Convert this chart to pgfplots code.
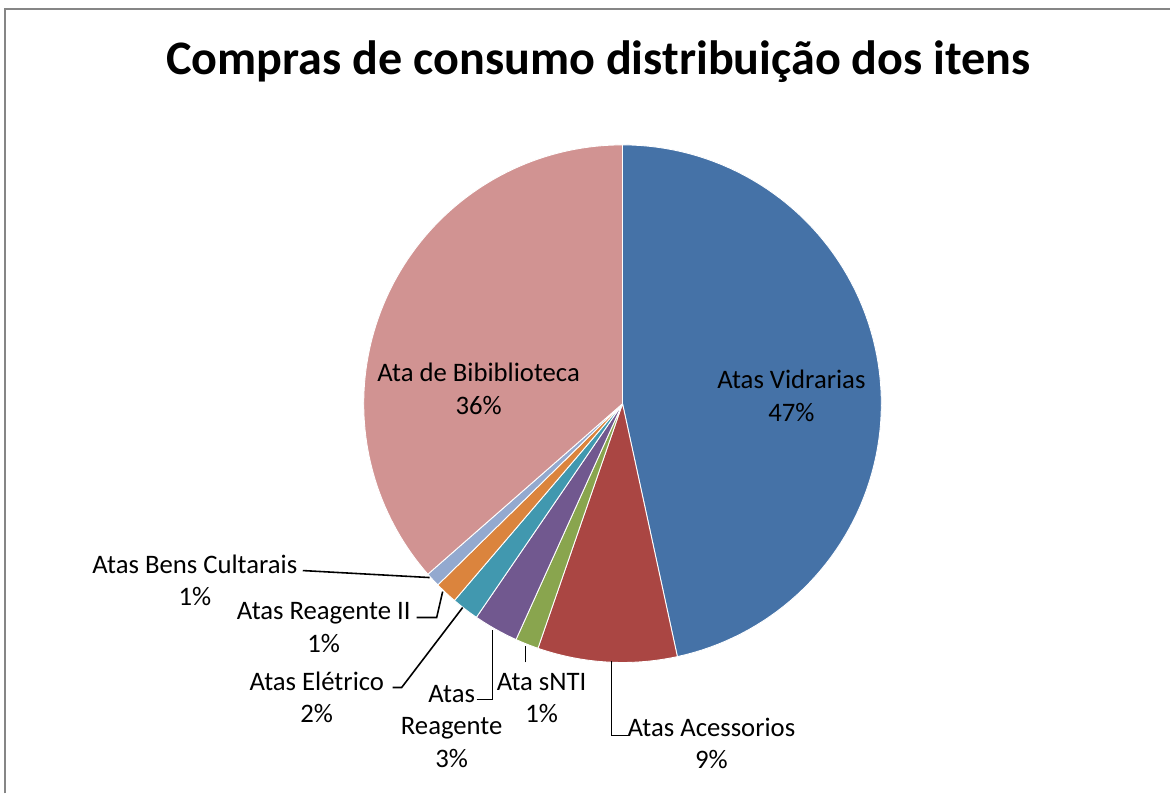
\documentclass[border=0pt]{standalone}
\usepackage{pgfplots}
\pgfplotsset{compat=1.18}
\usepackage{pgfplotstable}
\usepackage{fontspec}
\setmainfont{Carlito}
\definecolor{sc0}{HTML}{4572A7}
\definecolor{sc1}{HTML}{AA4643}
\definecolor{sc2}{HTML}{89A54E}
\definecolor{sc3}{HTML}{71588F}
\definecolor{sc4}{HTML}{4198AF}
\definecolor{sc5}{HTML}{DB843D}
\definecolor{sc6}{HTML}{93A9CF}
\definecolor{sc7}{HTML}{D19392}
\definecolor{framegray}{HTML}{868686}

\pgfplotstableread{
name value
Vidrarias 46.6
Acessorios 8.7
sNTI 1.45
Reagente 2.8
Eletrico 1.7
ReagenteII 1.4
BensCultarais 0.9
Biblioteca 36.45
}\piedata

\xdef\cum{0}
\pgfplotsforeachungrouped \i in {0,...,7}{%
  \pgfplotstablegetelem{\i}{value}\of\piedata
  \pgfmathsetmacro\sA{90-3.6*\cum}%
  \pgfmathsetmacro\cumnew{\cum+\pgfplotsretval}%
  \pgfmathsetmacro\eA{90-3.6*\cumnew}%
  \expandafter\xdef\csname ps\i\endcsname{\sA}%
  \expandafter\xdef\csname pe\i\endcsname{\eA}%
  \xdef\cum{\cumnew}%
}

\begin{document}
\begin{tikzpicture}
\begin{axis}[
  width=11.71cm, height=7.94cm, scale only axis,
  xmin=0, xmax=1171, ymin=0, ymax=794,
  hide axis, clip=false,
  font=\fontsize{7.6}{9.2}\selectfont,
]
\path (rel axis cs:0,0) rectangle (rel axis cs:1,1);
\pgfplotsinvokeforeach{0,...,7}{
  \edef\da{\csname pe#1\endcsname}
  \edef\db{\csname ps#1\endcsname}
  \addplot[fill=sc#1, draw=white, line width=0.25pt, domain=\da:\db, samples=90, variable=\t]
    ({623+259*cos(\t)},{390+259*sin(\t)}) -- (axis cs:623,390) -- cycle;
}
\draw[framegray, line width=0.5pt] (axis cs:5,0) -- (axis cs:5,785) -- (axis cs:1171,785);
\node[font=\fontsize{13.7}{16}\selectfont\bfseries] at (axis cs:599,732) {Compras de consumo distribuição dos itens};
\node[align=center] at (axis cs:792,398) {Atas Vidrarias\\47\%};
\node[align=center] at (axis cs:479,405) {Ata de Bibiblioteca\\36\%};
\node[align=center] at (axis cs:195,213) {Atas Bens Cultarais\\1\%};
\node[align=center] at (axis cs:324,166) {Atas Reagente II\\1\%};
\node[align=center] at (axis cs:317,96) {Atas Elétrico\\2\%};
\node[align=center] at (axis cs:452,67) {Atas\\Reagente\\3\%};
\node[align=center] at (axis cs:542,95.5) {Ata sNTI\\1\%};
\node[align=center] at (axis cs:712,50) {Atas Acessorios\\9\%};
\draw[black, line width=0.45pt] (axis cs:303,223) -- (axis cs:430,216);
\draw[black, line width=0.45pt] (axis cs:417,176) -- (axis cs:437,176) -- (axis cs:443,202);
\draw[black, line width=0.45pt] (axis cs:393,106) -- (axis cs:402,106) -- (axis cs:463,186);
\draw[black, line width=0.45pt] (axis cs:477,94) -- (axis cs:493,94) -- (axis cs:493,164);
\draw[black, line width=0.45pt] (axis cs:526,131) -- (axis cs:526,148);
\draw[black, line width=0.45pt] (axis cs:629,58) -- (axis cs:612,58) -- (axis cs:612,132);
\end{axis}
\end{tikzpicture}
\end{document}
